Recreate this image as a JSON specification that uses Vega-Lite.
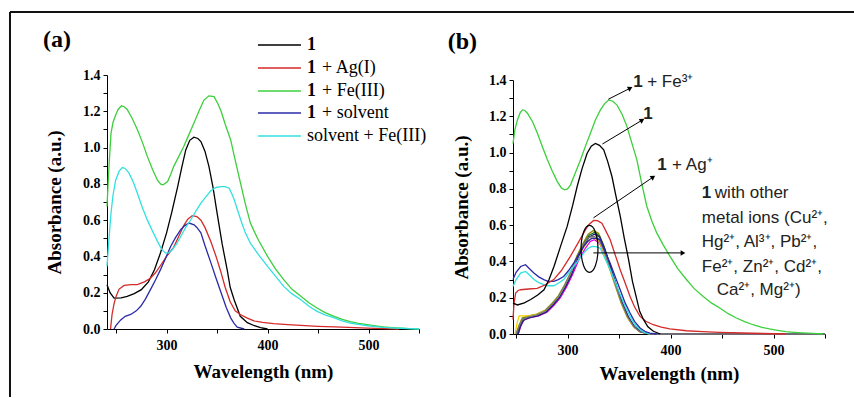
{
  "$schema": "https://vega.github.io/schema/vega-lite/v6.json",
  "background": "white",
  "padding": {"left": 8, "top": 11, "right": 0, "bottom": 0},
  "spacing": 94,
  "bounds": "flush",
  "config": {
    "view": {"stroke": null},
    "axis": {
      "grid": false, "domainColor": "#000", "tickColor": "#000", "tickSize": 4, "labelOverlap": false,
      "labelFont": "Liberation Serif", "labelFontWeight": "bold", "labelFontSize": 14, "labelColor": "#000",
      "titleFont": "Liberation Serif", "titleFontWeight": "bold", "titleFontSize": 19, "titleColor": "#000"
    }
  },
  "datasets": {
    "a": [
      {"s":"1","x":241,"y":0.244},{"s":"1","x":244,"y":0.2},{"s":"1","x":248,"y":0.17},{"s":"1","x":255,"y":0.172},{"s":"1","x":261,"y":0.18},{"s":"1","x":268,"y":0.195},{"s":"1","x":275,"y":0.217},{"s":"1","x":282,"y":0.26},{"s":"1","x":288,"y":0.327},{"s":"1","x":294,"y":0.42},{"s":"1","x":300,"y":0.53},{"s":"1","x":305,"y":0.64},{"s":"1","x":311,"y":0.785},{"s":"1","x":315,"y":0.89},{"s":"1","x":319,"y":0.987},{"s":"1","x":323,"y":1.04},{"s":"1","x":327,"y":1.057},{"s":"1","x":331,"y":1.05},{"s":"1","x":334,"y":1.033},{"s":"1","x":338,"y":0.98},{"s":"1","x":342,"y":0.895},{"s":"1","x":346,"y":0.78},{"s":"1","x":350,"y":0.64},{"s":"1","x":355,"y":0.47},{"s":"1","x":360,"y":0.327},{"s":"1","x":363,"y":0.23},{"s":"1","x":367,"y":0.16},{"s":"1","x":373,"y":0.07},{"s":"1","x":380,"y":0.035},{"s":"1","x":387,"y":0.018},{"s":"1","x":393,"y":0.008},{"s":"1","x":400,"y":0},
      {"s":"1 + Ag(I)","x":244.5,"y":0},{"s":"1 + Ag(I)","x":246,"y":0.08},{"s":"1 + Ag(I)","x":248,"y":0.14},{"s":"1 + Ag(I)","x":250,"y":0.18},{"s":"1 + Ag(I)","x":253,"y":0.22},{"s":"1 + Ag(I)","x":258,"y":0.24},{"s":"1 + Ag(I)","x":265,"y":0.245},{"s":"1 + Ag(I)","x":271,"y":0.245},{"s":"1 + Ag(I)","x":278,"y":0.26},{"s":"1 + Ag(I)","x":284,"y":0.28},{"s":"1 + Ag(I)","x":289,"y":0.31},{"s":"1 + Ag(I)","x":294,"y":0.35},{"s":"1 + Ag(I)","x":300,"y":0.4},{"s":"1 + Ag(I)","x":307,"y":0.45},{"s":"1 + Ag(I)","x":312,"y":0.51},{"s":"1 + Ag(I)","x":317,"y":0.57},{"s":"1 + Ag(I)","x":321,"y":0.605},{"s":"1 + Ag(I)","x":325.5,"y":0.625},{"s":"1 + Ag(I)","x":330,"y":0.62},{"s":"1 + Ag(I)","x":334,"y":0.6},{"s":"1 + Ag(I)","x":338,"y":0.56},{"s":"1 + Ag(I)","x":344,"y":0.48},{"s":"1 + Ag(I)","x":349,"y":0.4},{"s":"1 + Ag(I)","x":353.5,"y":0.32},{"s":"1 + Ag(I)","x":358,"y":0.23},{"s":"1 + Ag(I)","x":363,"y":0.15},{"s":"1 + Ag(I)","x":368,"y":0.1},{"s":"1 + Ag(I)","x":373,"y":0.08},{"s":"1 + Ag(I)","x":380,"y":0.06},{"s":"1 + Ag(I)","x":386.5,"y":0.045},{"s":"1 + Ag(I)","x":395,"y":0.037},{"s":"1 + Ag(I)","x":406,"y":0.03},{"s":"1 + Ag(I)","x":420,"y":0.024},{"s":"1 + Ag(I)","x":433,"y":0.02},{"s":"1 + Ag(I)","x":450,"y":0.015},{"s":"1 + Ag(I)","x":466,"y":0.012},{"s":"1 + Ag(I)","x":480,"y":0.009},{"s":"1 + Ag(I)","x":499,"y":0.005},{"s":"1 + Ag(I)","x":525,"y":0.001},{"s":"1 + Ag(I)","x":530,"y":0},
      {"s":"1 + Fe(III)","x":241,"y":0.675},{"s":"1 + Fe(III)","x":243,"y":0.9},{"s":"1 + Fe(III)","x":245,"y":1.08},{"s":"1 + Fe(III)","x":247,"y":1.14},{"s":"1 + Fe(III)","x":249.6,"y":1.18},{"s":"1 + Fe(III)","x":252,"y":1.21},{"s":"1 + Fe(III)","x":255.3,"y":1.23},{"s":"1 + Fe(III)","x":258,"y":1.225},{"s":"1 + Fe(III)","x":261,"y":1.21},{"s":"1 + Fe(III)","x":266,"y":1.16},{"s":"1 + Fe(III)","x":271,"y":1.1},{"s":"1 + Fe(III)","x":276,"y":1.03},{"s":"1 + Fe(III)","x":281,"y":0.95},{"s":"1 + Fe(III)","x":286,"y":0.88},{"s":"1 + Fe(III)","x":291,"y":0.82},{"s":"1 + Fe(III)","x":294,"y":0.8},{"s":"1 + Fe(III)","x":296,"y":0.795},{"s":"1 + Fe(III)","x":298,"y":0.8},{"s":"1 + Fe(III)","x":301,"y":0.813},{"s":"1 + Fe(III)","x":304,"y":0.85},{"s":"1 + Fe(III)","x":307,"y":0.895},{"s":"1 + Fe(III)","x":312,"y":0.95},{"s":"1 + Fe(III)","x":317,"y":1.006},{"s":"1 + Fe(III)","x":322,"y":1.07},{"s":"1 + Fe(III)","x":327,"y":1.134},{"s":"1 + Fe(III)","x":332,"y":1.2},{"s":"1 + Fe(III)","x":337,"y":1.262},{"s":"1 + Fe(III)","x":342,"y":1.285},{"s":"1 + Fe(III)","x":347,"y":1.281},{"s":"1 + Fe(III)","x":351,"y":1.24},{"s":"1 + Fe(III)","x":354,"y":1.2},{"s":"1 + Fe(III)","x":358,"y":1.13},{"s":"1 + Fe(III)","x":363.5,"y":1.042},{"s":"1 + Fe(III)","x":368,"y":0.93},{"s":"1 + Fe(III)","x":373,"y":0.81},{"s":"1 + Fe(III)","x":378,"y":0.69},{"s":"1 + Fe(III)","x":383,"y":0.584},{"s":"1 + Fe(III)","x":390,"y":0.5},{"s":"1 + Fe(III)","x":400,"y":0.4},{"s":"1 + Fe(III)","x":408,"y":0.33},{"s":"1 + Fe(III)","x":416,"y":0.272},{"s":"1 + Fe(III)","x":424,"y":0.22},{"s":"1 + Fe(III)","x":433,"y":0.18},{"s":"1 + Fe(III)","x":441,"y":0.145},{"s":"1 + Fe(III)","x":449,"y":0.116},{"s":"1 + Fe(III)","x":457,"y":0.09},{"s":"1 + Fe(III)","x":466,"y":0.07},{"s":"1 + Fe(III)","x":474,"y":0.053},{"s":"1 + Fe(III)","x":482,"y":0.04},{"s":"1 + Fe(III)","x":490,"y":0.031},{"s":"1 + Fe(III)","x":499,"y":0.024},{"s":"1 + Fe(III)","x":507,"y":0.017},{"s":"1 + Fe(III)","x":515,"y":0.011},{"s":"1 + Fe(III)","x":523,"y":0.008},{"s":"1 + Fe(III)","x":532,"y":0.005},{"s":"1 + Fe(III)","x":540,"y":0.002},{"s":"1 + Fe(III)","x":550,"y":0},
      {"s":"1 + solvent","x":248,"y":0},{"s":"1 + solvent","x":250,"y":0.02},{"s":"1 + solvent","x":254.6,"y":0.05},{"s":"1 + solvent","x":259,"y":0.07},{"s":"1 + solvent","x":264.5,"y":0.08},{"s":"1 + solvent","x":270,"y":0.1},{"s":"1 + solvent","x":274.4,"y":0.125},{"s":"1 + solvent","x":279,"y":0.165},{"s":"1 + solvent","x":284.3,"y":0.22},{"s":"1 + solvent","x":289,"y":0.27},{"s":"1 + solvent","x":294.2,"y":0.33},{"s":"1 + solvent","x":299,"y":0.39},{"s":"1 + solvent","x":304,"y":0.455},{"s":"1 + solvent","x":309,"y":0.505},{"s":"1 + solvent","x":314,"y":0.547},{"s":"1 + solvent","x":318,"y":0.57},{"s":"1 + solvent","x":322.3,"y":0.584},{"s":"1 + solvent","x":327.3,"y":0.574},{"s":"1 + solvent","x":330,"y":0.56},{"s":"1 + solvent","x":334,"y":0.53},{"s":"1 + solvent","x":338,"y":0.46},{"s":"1 + solvent","x":344,"y":0.363},{"s":"1 + solvent","x":349,"y":0.28},{"s":"1 + solvent","x":354,"y":0.2},{"s":"1 + solvent","x":359,"y":0.12},{"s":"1 + solvent","x":363.6,"y":0.06},{"s":"1 + solvent","x":367,"y":0.03},{"s":"1 + solvent","x":370,"y":0.01},{"s":"1 + solvent","x":377,"y":0},
      {"s":"solvent + Fe(III)","x":241,"y":0.345},{"s":"solvent + Fe(III)","x":243,"y":0.5},{"s":"solvent + Fe(III)","x":245,"y":0.64},{"s":"solvent + Fe(III)","x":247,"y":0.74},{"s":"solvent + Fe(III)","x":249.6,"y":0.82},{"s":"solvent + Fe(III)","x":253,"y":0.87},{"s":"solvent + Fe(III)","x":256.2,"y":0.89},{"s":"solvent + Fe(III)","x":259,"y":0.885},{"s":"solvent + Fe(III)","x":262.8,"y":0.859},{"s":"solvent + Fe(III)","x":267,"y":0.81},{"s":"solvent + Fe(III)","x":271,"y":0.75},{"s":"solvent + Fe(III)","x":276,"y":0.67},{"s":"solvent + Fe(III)","x":281,"y":0.6},{"s":"solvent + Fe(III)","x":286,"y":0.54},{"s":"solvent + Fe(III)","x":291,"y":0.483},{"s":"solvent + Fe(III)","x":295,"y":0.44},{"s":"solvent + Fe(III)","x":299,"y":0.418},{"s":"solvent + Fe(III)","x":302,"y":0.42},{"s":"solvent + Fe(III)","x":305.7,"y":0.437},{"s":"solvent + Fe(III)","x":310,"y":0.47},{"s":"solvent + Fe(III)","x":314,"y":0.51},{"s":"solvent + Fe(III)","x":319,"y":0.56},{"s":"solvent + Fe(III)","x":324,"y":0.602},{"s":"solvent + Fe(III)","x":329,"y":0.65},{"s":"solvent + Fe(III)","x":334,"y":0.694},{"s":"solvent + Fe(III)","x":339,"y":0.73},{"s":"solvent + Fe(III)","x":344,"y":0.763},{"s":"solvent + Fe(III)","x":349,"y":0.78},{"s":"solvent + Fe(III)","x":354,"y":0.785},{"s":"solvent + Fe(III)","x":358,"y":0.785},{"s":"solvent + Fe(III)","x":362,"y":0.776},{"s":"solvent + Fe(III)","x":365,"y":0.74},{"s":"solvent + Fe(III)","x":367,"y":0.712},{"s":"solvent + Fe(III)","x":370,"y":0.66},{"s":"solvent + Fe(III)","x":373.4,"y":0.602},{"s":"solvent + Fe(III)","x":378,"y":0.53},{"s":"solvent + Fe(III)","x":383,"y":0.473},{"s":"solvent + Fe(III)","x":391,"y":0.41},{"s":"solvent + Fe(III)","x":400,"y":0.345},{"s":"solvent + Fe(III)","x":408,"y":0.29},{"s":"solvent + Fe(III)","x":416,"y":0.235},{"s":"solvent + Fe(III)","x":424,"y":0.195},{"s":"solvent + Fe(III)","x":433,"y":0.161},{"s":"solvent + Fe(III)","x":441,"y":0.125},{"s":"solvent + Fe(III)","x":449,"y":0.097},{"s":"solvent + Fe(III)","x":457,"y":0.078},{"s":"solvent + Fe(III)","x":466,"y":0.061},{"s":"solvent + Fe(III)","x":474,"y":0.045},{"s":"solvent + Fe(III)","x":482,"y":0.033},{"s":"solvent + Fe(III)","x":490,"y":0.025},{"s":"solvent + Fe(III)","x":499,"y":0.018},{"s":"solvent + Fe(III)","x":507,"y":0.013},{"s":"solvent + Fe(III)","x":515,"y":0.009},{"s":"solvent + Fe(III)","x":523,"y":0.006},{"s":"solvent + Fe(III)","x":532,"y":0.004},{"s":"solvent + Fe(III)","x":540,"y":0.002},{"s":"solvent + Fe(III)","x":550,"y":0}
    ],
    "legA": [
      {"s":"1","x":390.5,"x2":433.1,"y":1.565},
      {"s":"1 + Ag(I)","x":390.5,"x2":433.1,"y":1.4385},
      {"s":"1 + Fe(III)","x":390.5,"x2":433.1,"y":1.312},
      {"s":"1 + solvent","x":390.5,"x2":433.1,"y":1.19},
      {"s":"solvent + Fe(III)","x":390.5,"x2":433.1,"y":1.064}
    ],
    "legBold": [
      {"x":439.1,"y":1.565,"t":"1"},{"x":439.1,"y":1.4385,"t":"1"},{"x":439.1,"y":1.312,"t":"1"},{"x":439.1,"y":1.19,"t":"1"}
    ],
    "legNorm": [
      {"x":454,"y":1.4385,"t":"+ Ag(I)"},{"x":454,"y":1.312,"t":"+ Fe(III)"},{"x":454,"y":1.19,"t":"+ solvent"},{"x":439.1,"y":1.064,"t":"solvent + Fe(III)"}
    ],
    "labA": [{"x":177.6,"y":1.593,"t":"(a)"}],
    "labB": [{"x":183.6,"y":1.611,"t":"(b)"}],
    "frame": [
      {"x":-241.5,"x2":578.2,"y":1.7748,"y2":1.7748},
      {"x":-241.5,"x2":-241.5,"y":1.7748,"y2":-0.3472}
    ],
    "b": [
      {"s":"m1","x":250,"y":0},{"s":"m1","x":253,"y":0.05},{"s":"m1","x":256,"y":0.09},{"s":"m1","x":262,"y":0.1},{"s":"m1","x":270,"y":0.11},{"s":"m1","x":278,"y":0.13},{"s":"m1","x":285,"y":0.17},{"s":"m1","x":291,"y":0.21},{"s":"m1","x":297,"y":0.27},{"s":"m1","x":303,"y":0.34},{"s":"m1","x":309,"y":0.43},{"s":"m1","x":315,"y":0.5},{"s":"m1","x":320,"y":0.55},{"s":"m1","x":325,"y":0.57},{"s":"m1","x":330,"y":0.555},{"s":"m1","x":335,"y":0.49},{"s":"m1","x":340,"y":0.4},{"s":"m1","x":346,"y":0.29},{"s":"m1","x":352,"y":0.19},{"s":"m1","x":358,"y":0.1},{"s":"m1","x":364,"y":0.045},{"s":"m1","x":370,"y":0.015},{"s":"m1","x":378,"y":0.003},{"s":"m1","x":386,"y":0},{"s":"m1","x":550,"y":0},
      {"s":"m2","x":251,"y":0},{"s":"m2","x":254,"y":0.05},{"s":"m2","x":257,"y":0.085},{"s":"m2","x":263,"y":0.095},{"s":"m2","x":271,"y":0.105},{"s":"m2","x":279,"y":0.125},{"s":"m2","x":286,"y":0.165},{"s":"m2","x":292,"y":0.21},{"s":"m2","x":298,"y":0.27},{"s":"m2","x":304,"y":0.34},{"s":"m2","x":310,"y":0.43},{"s":"m2","x":316,"y":0.5},{"s":"m2","x":321,"y":0.545},{"s":"m2","x":326,"y":0.56},{"s":"m2","x":331,"y":0.54},{"s":"m2","x":336,"y":0.47},{"s":"m2","x":341,"y":0.38},{"s":"m2","x":347,"y":0.27},{"s":"m2","x":353,"y":0.17},{"s":"m2","x":359,"y":0.09},{"s":"m2","x":365,"y":0.04},{"s":"m2","x":371,"y":0.012},{"s":"m2","x":379,"y":0.002},{"s":"m2","x":388,"y":0},{"s":"m2","x":550,"y":0},
      {"s":"m3","x":252,"y":0},{"s":"m3","x":255,"y":0.05},{"s":"m3","x":258,"y":0.08},{"s":"m3","x":264,"y":0.09},{"s":"m3","x":272,"y":0.1},{"s":"m3","x":280,"y":0.12},{"s":"m3","x":287,"y":0.16},{"s":"m3","x":293,"y":0.2},{"s":"m3","x":299,"y":0.26},{"s":"m3","x":305,"y":0.33},{"s":"m3","x":311,"y":0.41},{"s":"m3","x":317,"y":0.47},{"s":"m3","x":322,"y":0.51},{"s":"m3","x":326,"y":0.52},{"s":"m3","x":331,"y":0.5},{"s":"m3","x":336,"y":0.44},{"s":"m3","x":341,"y":0.36},{"s":"m3","x":347,"y":0.26},{"s":"m3","x":353,"y":0.16},{"s":"m3","x":359,"y":0.085},{"s":"m3","x":365,"y":0.035},{"s":"m3","x":371,"y":0.01},{"s":"m3","x":379,"y":0.002},{"s":"m3","x":388,"y":0},{"s":"m3","x":550,"y":0},
      {"s":"m4","x":249,"y":0},{"s":"m4","x":251,"y":0.06},{"s":"m4","x":253,"y":0.1},{"s":"m4","x":257,"y":0.1},{"s":"m4","x":263,"y":0.1},{"s":"m4","x":271,"y":0.11},{"s":"m4","x":279,"y":0.13},{"s":"m4","x":286,"y":0.17},{"s":"m4","x":292,"y":0.21},{"s":"m4","x":298,"y":0.27},{"s":"m4","x":304,"y":0.34},{"s":"m4","x":310,"y":0.42},{"s":"m4","x":316,"y":0.48},{"s":"m4","x":321,"y":0.52},{"s":"m4","x":325,"y":0.53},{"s":"m4","x":330,"y":0.515},{"s":"m4","x":335,"y":0.455},{"s":"m4","x":340,"y":0.37},{"s":"m4","x":346,"y":0.27},{"s":"m4","x":352,"y":0.17},{"s":"m4","x":358,"y":0.09},{"s":"m4","x":364,"y":0.04},{"s":"m4","x":370,"y":0.012},{"s":"m4","x":378,"y":0.002},{"s":"m4","x":386,"y":0},{"s":"m4","x":550,"y":0},
      {"s":"m5","x":252,"y":0},{"s":"m5","x":254,"y":0.04},{"s":"m5","x":257,"y":0.075},{"s":"m5","x":263,"y":0.09},{"s":"m5","x":271,"y":0.1},{"s":"m5","x":279,"y":0.12},{"s":"m5","x":286,"y":0.16},{"s":"m5","x":292,"y":0.2},{"s":"m5","x":298,"y":0.26},{"s":"m5","x":304,"y":0.33},{"s":"m5","x":310,"y":0.42},{"s":"m5","x":316,"y":0.49},{"s":"m5","x":321,"y":0.535},{"s":"m5","x":326,"y":0.55},{"s":"m5","x":331,"y":0.535},{"s":"m5","x":336,"y":0.47},{"s":"m5","x":341,"y":0.385},{"s":"m5","x":347,"y":0.275},{"s":"m5","x":353,"y":0.175},{"s":"m5","x":359,"y":0.095},{"s":"m5","x":365,"y":0.04},{"s":"m5","x":371,"y":0.012},{"s":"m5","x":379,"y":0.002},{"s":"m5","x":388,"y":0},{"s":"m5","x":550,"y":0},
      {"s":"m6","x":250,"y":0},{"s":"m6","x":253,"y":0.045},{"s":"m6","x":256,"y":0.08},{"s":"m6","x":262,"y":0.095},{"s":"m6","x":270,"y":0.105},{"s":"m6","x":278,"y":0.125},{"s":"m6","x":285,"y":0.165},{"s":"m6","x":291,"y":0.205},{"s":"m6","x":297,"y":0.265},{"s":"m6","x":303,"y":0.335},{"s":"m6","x":309,"y":0.42},{"s":"m6","x":315,"y":0.49},{"s":"m6","x":320,"y":0.53},{"s":"m6","x":325,"y":0.54},{"s":"m6","x":330,"y":0.525},{"s":"m6","x":335,"y":0.465},{"s":"m6","x":340,"y":0.38},{"s":"m6","x":346,"y":0.275},{"s":"m6","x":352,"y":0.175},{"s":"m6","x":358,"y":0.095},{"s":"m6","x":364,"y":0.042},{"s":"m6","x":370,"y":0.013},{"s":"m6","x":378,"y":0.003},{"s":"m6","x":386,"y":0},{"s":"m6","x":550,"y":0},
      {"s":"cyan","x":247,"y":0.262},{"s":"cyan","x":250,"y":0.3},{"s":"cyan","x":254.4,"y":0.336},{"s":"cyan","x":259.2,"y":0.345},{"s":"cyan","x":263,"y":0.325},{"s":"cyan","x":267.3,"y":0.3},{"s":"cyan","x":272,"y":0.283},{"s":"cyan","x":276.9,"y":0.272},{"s":"cyan","x":281,"y":0.266},{"s":"cyan","x":286.6,"y":0.266},{"s":"cyan","x":291,"y":0.28},{"s":"cyan","x":296.2,"y":0.3},{"s":"cyan","x":301,"y":0.335},{"s":"cyan","x":305.9,"y":0.372},{"s":"cyan","x":311,"y":0.41},{"s":"cyan","x":315.6,"y":0.446},{"s":"cyan","x":319.5,"y":0.47},{"s":"cyan","x":323.6,"y":0.483},{"s":"cyan","x":327.5,"y":0.482},{"s":"cyan","x":331.7,"y":0.473},{"s":"cyan","x":336,"y":0.42},{"s":"cyan","x":341.4,"y":0.354},{"s":"cyan","x":346,"y":0.29},{"s":"cyan","x":351.1,"y":0.217},{"s":"cyan","x":356,"y":0.15},{"s":"cyan","x":360.7,"y":0.097},{"s":"cyan","x":365,"y":0.055},{"s":"cyan","x":370.4,"y":0.024},{"s":"cyan","x":375,"y":0.008},{"s":"cyan","x":380,"y":0},
      {"s":"blue","x":247,"y":0.3},{"s":"blue","x":250,"y":0.34},{"s":"blue","x":254.4,"y":0.372},{"s":"blue","x":259.2,"y":0.382},{"s":"blue","x":263,"y":0.36},{"s":"blue","x":267.3,"y":0.336},{"s":"blue","x":272,"y":0.315},{"s":"blue","x":276.9,"y":0.3},{"s":"blue","x":281,"y":0.29},{"s":"blue","x":286.6,"y":0.29},{"s":"blue","x":291,"y":0.3},{"s":"blue","x":296.2,"y":0.317},{"s":"blue","x":301,"y":0.35},{"s":"blue","x":305.9,"y":0.39},{"s":"blue","x":311,"y":0.44},{"s":"blue","x":315.6,"y":0.483},{"s":"blue","x":319.5,"y":0.51},{"s":"blue","x":323.6,"y":0.528},{"s":"blue","x":327.5,"y":0.527},{"s":"blue","x":331.7,"y":0.519},{"s":"blue","x":336,"y":0.46},{"s":"blue","x":341.4,"y":0.39},{"s":"blue","x":346,"y":0.32},{"s":"blue","x":351.1,"y":0.244},{"s":"blue","x":356,"y":0.17},{"s":"blue","x":360.7,"y":0.116},{"s":"blue","x":365,"y":0.07},{"s":"blue","x":370.4,"y":0.033},{"s":"blue","x":375,"y":0.015},{"s":"blue","x":380,"y":0.005},{"s":"blue","x":386.5,"y":0},
      {"s":"Ag","x":247,"y":0.08},{"s":"Ag","x":248,"y":0.17},{"s":"Ag","x":249.6,"y":0.226},{"s":"Ag","x":252,"y":0.24},{"s":"Ag","x":254.4,"y":0.244},{"s":"Ag","x":262,"y":0.248},{"s":"Ag","x":270.5,"y":0.251},{"s":"Ag","x":278,"y":0.27},{"s":"Ag","x":286.6,"y":0.3},{"s":"Ag","x":294,"y":0.35},{"s":"Ag","x":302.7,"y":0.428},{"s":"Ag","x":309,"y":0.49},{"s":"Ag","x":315.6,"y":0.556},{"s":"Ag","x":320,"y":0.6},{"s":"Ag","x":325.3,"y":0.626},{"s":"Ag","x":329,"y":0.625},{"s":"Ag","x":333.3,"y":0.611},{"s":"Ag","x":337,"y":0.57},{"s":"Ag","x":341.4,"y":0.519},{"s":"Ag","x":346,"y":0.44},{"s":"Ag","x":351.1,"y":0.354},{"s":"Ag","x":356,"y":0.28},{"s":"Ag","x":360.7,"y":0.207},{"s":"Ag","x":365,"y":0.15},{"s":"Ag","x":370.4,"y":0.097},{"s":"Ag","x":376,"y":0.07},{"s":"Ag","x":383.2,"y":0.051},{"s":"Ag","x":391,"y":0.038},{"s":"Ag","x":399.3,"y":0.028},{"s":"Ag","x":415.4,"y":0.018},{"s":"Ag","x":431,"y":0.013},{"s":"Ag","x":447.6,"y":0.009},{"s":"Ag","x":479.8,"y":0.004},{"s":"Ag","x":512,"y":0},
      {"s":"one","x":247,"y":0.17},{"s":"one","x":251.3,"y":0.16},{"s":"one","x":258,"y":0.172},{"s":"one","x":264.2,"y":0.19},{"s":"one","x":271,"y":0.215},{"s":"one","x":277.1,"y":0.244},{"s":"one","x":282,"y":0.3},{"s":"one","x":286.8,"y":0.372},{"s":"one","x":293,"y":0.48},{"s":"one","x":299.6,"y":0.593},{"s":"one","x":305,"y":0.71},{"s":"one","x":309.3,"y":0.813},{"s":"one","x":314,"y":0.91},{"s":"one","x":319,"y":0.996},{"s":"one","x":323,"y":1.035},{"s":"one","x":327,"y":1.05},{"s":"one","x":331,"y":1.04},{"s":"one","x":335.1,"y":1.015},{"s":"one","x":339,"y":0.95},{"s":"one","x":343.1,"y":0.868},{"s":"one","x":347,"y":0.76},{"s":"one","x":351.2,"y":0.648},{"s":"one","x":355,"y":0.53},{"s":"one","x":359.3,"y":0.409},{"s":"one","x":363,"y":0.29},{"s":"one","x":367.3,"y":0.189},{"s":"one","x":370,"y":0.125},{"s":"one","x":373.8,"y":0.079},{"s":"one","x":378,"y":0.04},{"s":"one","x":383.4,"y":0.015},{"s":"one","x":390,"y":0},
      {"s":"Fe3","x":247,"y":1.05},{"s":"Fe3","x":249,"y":1.13},{"s":"Fe3","x":251.3,"y":1.18},{"s":"Fe3","x":254,"y":1.22},{"s":"Fe3","x":256.2,"y":1.235},{"s":"Fe3","x":258.5,"y":1.232},{"s":"Fe3","x":261,"y":1.217},{"s":"Fe3","x":266,"y":1.17},{"s":"Fe3","x":270.7,"y":1.106},{"s":"Fe3","x":275,"y":1.04},{"s":"Fe3","x":280.4,"y":0.96},{"s":"Fe3","x":285,"y":0.9},{"s":"Fe3","x":290,"y":0.84},{"s":"Fe3","x":294,"y":0.805},{"s":"Fe3","x":297.1,"y":0.795},{"s":"Fe3","x":300,"y":0.8},{"s":"Fe3","x":302.9,"y":0.822},{"s":"Fe3","x":307,"y":0.88},{"s":"Fe3","x":312.6,"y":0.96},{"s":"Fe3","x":317,"y":1.03},{"s":"Fe3","x":322.2,"y":1.106},{"s":"Fe3","x":327,"y":1.18},{"s":"Fe3","x":331.9,"y":1.235},{"s":"Fe3","x":336,"y":1.27},{"s":"Fe3","x":339.9,"y":1.29},{"s":"Fe3","x":344,"y":1.283},{"s":"Fe3","x":348,"y":1.262},{"s":"Fe3","x":353,"y":1.21},{"s":"Fe3","x":357.7,"y":1.143},{"s":"Fe3","x":362,"y":1.06},{"s":"Fe3","x":367.3,"y":0.96},{"s":"Fe3","x":372,"y":0.83},{"s":"Fe3","x":377,"y":0.703},{"s":"Fe3","x":382,"y":0.62},{"s":"Fe3","x":386.7,"y":0.556},{"s":"Fe3","x":393,"y":0.49},{"s":"Fe3","x":399.5,"y":0.428},{"s":"Fe3","x":407,"y":0.36},{"s":"Fe3","x":415.6,"y":0.299},{"s":"Fe3","x":423,"y":0.25},{"s":"Fe3","x":431.7,"y":0.207},{"s":"Fe3","x":440,"y":0.17},{"s":"Fe3","x":447.8,"y":0.143},{"s":"Fe3","x":456,"y":0.112},{"s":"Fe3","x":463.9,"y":0.088},{"s":"Fe3","x":472,"y":0.068},{"s":"Fe3","x":480,"y":0.051},{"s":"Fe3","x":488,"y":0.038},{"s":"Fe3","x":496,"y":0.028},{"s":"Fe3","x":504,"y":0.02},{"s":"Fe3","x":512,"y":0.013},{"s":"Fe3","x":520,"y":0.009},{"s":"Fe3","x":528,"y":0.006},{"s":"Fe3","x":538,"y":0.003},{"s":"Fe3","x":548,"y":0}
    ],
    "arrows": [
      {"x":339.6,"y":1.294,"x2":360.9,"y2":1.355,"ang":333},
      {"x":333.8,"y":1.047,"x2":372.5,"y2":1.179,"ang":329},
      {"x":325.1,"y":0.64,"x2":383.1,"y2":0.865,"ang":326},
      {"x":325.1,"y":0.447,"x2":412.1,"y2":0.447,"ang":0}
    ],
    "ellipse": [{"x":321.3,"y":0.469}],
    "boldtext": [
      {"x":363.8,"y":1.388,"t":"1"},
      {"x":373.4,"y":1.212,"t":"1"},
      {"x":387,"y":0.931,"t":"1"},
      {"x":430.4,"y":0.777,"t":"1"}
    ],
    "normtext": [
      {"x":377.3,"y":1.388,"t":"+ Fe³⁺"},
      {"x":401.5,"y":0.931,"t":"+ Ag⁺"},
      {"x":443,"y":0.777,"t":"with other"},
      {"x":430.4,"y":0.64,"t":"metal ions (Cu²⁺,"},
      {"x":430.4,"y":0.508,"t":"Hg²⁺, Al³⁺, Pb²⁺,"},
      {"x":430.4,"y":0.37,"t":"Fe²⁺, Zn²⁺, Cd²⁺,"},
      {"x":444.9,"y":0.244,"t":"Ca²⁺, Mg²⁺)"}
    ]
  },
  "resolve": {"scale": {"x": "independent", "y": "independent", "color": "independent"}},
  "hconcat": [
    {
      "width": 312, "height": 254,
      "encoding": {
        "x": {"field": "x", "type": "quantitative", "title": "Wavelength (nm)",
              "scale": {"domain": [241, 550], "nice": false, "zero": false},
              "axis": {"values": [250, 300, 350, 400, 450, 500, 550], "labelExpr": "datum.value % 100 == 0 ? datum.label : ''", "titlePadding": 10, "labelPadding": 5}},
        "y": {"field": "y", "type": "quantitative", "title": "Absorbance (a.u.)",
              "scale": {"domain": [0, 1.4], "nice": false, "zero": false},
              "axis": {"values": [0, 0.1, 0.2, 0.3, 0.4, 0.5, 0.6, 0.7, 0.8, 0.9, 1.0, 1.1, 1.2, 1.3, 1.4], "labelExpr": "round(datum.value*10) % 2 == 0 ? format(datum.value, '.1f') : ''", "titlePadding": 18, "labelPadding": 3}}
      },
      "layer": [
        {
          "data": {"name": "a"},
          "mark": {"type": "line", "strokeWidth": 1.3},
          "encoding": {
            "color": {"field": "s", "type": "nominal", "legend": null,
                      "scale": {"domain": ["1", "1 + Ag(I)", "1 + Fe(III)", "1 + solvent", "solvent + Fe(III)"], "range": ["#000000", "#d42a2a", "#3ccf3c", "#2a2aa8", "#33e0e0"]}}
          }
        },
        {
          "data": {"name": "legA"},
          "mark": {"type": "rule", "strokeWidth": 1.5},
          "encoding": {
            "x2": {"field": "x2"},
            "color": {"field": "s", "type": "nominal", "legend": null}
          }
        },
        {
          "data": {"name": "legBold"},
          "mark": {"type": "text", "font": "Liberation Serif", "fontSize": 18, "fontWeight": "bold", "align": "left", "baseline": "middle", "color": "#000"},
          "encoding": {"text": {"field": "t", "type": "nominal"}}
        },
        {
          "data": {"name": "legNorm"},
          "mark": {"type": "text", "font": "Liberation Serif", "fontSize": 18, "align": "left", "baseline": "middle", "color": "#000"},
          "encoding": {"text": {"field": "t", "type": "nominal"}}
        },
        {
          "data": {"name": "labA"},
          "mark": {"type": "text", "font": "Liberation Serif", "fontSize": 24, "fontWeight": "bold", "align": "left", "baseline": "middle", "color": "#000"},
          "encoding": {"text": {"field": "t", "type": "nominal"}}
        }
      ]
    },
    {
      "vconcat": [
        {"width": 312, "height": 1, "data": {"values": []}, "mark": "point", "encoding": {}},
        {
          "width": 312, "height": 254,
          "encoding": {
            "x": {"field": "x", "type": "quantitative", "title": "Wavelength (nm)",
                  "scale": {"domain": [247, 550], "nice": false, "zero": false},
                  "axis": {"values": [250, 300, 350, 400, 450, 500, 550], "labelExpr": "datum.value % 100 == 0 ? datum.label : ''", "titlePadding": 7, "labelPadding": 5}},
            "y": {"field": "y", "type": "quantitative", "title": "Absorbance (a.u.)",
                  "scale": {"domain": [0, 1.4], "nice": false, "zero": false},
                  "axis": {"values": [0, 0.1, 0.2, 0.3, 0.4, 0.5, 0.6, 0.7, 0.8, 0.9, 1.0, 1.1, 1.2, 1.3, 1.4], "labelExpr": "round(datum.value*10) % 2 == 0 ? format(datum.value, '.1f') : ''", "titlePadding": 17, "labelPadding": 3}}
          },
          "layer": [
            {
              "data": {"name": "b"},
              "mark": {"type": "line", "strokeWidth": 1.3},
              "encoding": {
                "color": {"field": "s", "type": "nominal", "legend": null,
                          "scale": {"domain": ["m1", "m2", "m3", "m4", "m5", "m6", "cyan", "blue", "Ag", "one", "Fe3"], "range": ["#8b8b00", "#1a6b1a", "#e000e0", "#f0d000", "#202080", "#7a7a7a", "#33e0e0", "#2a2aa8", "#d42a2a", "#000000", "#3ccf3c"]}}
              }
            },
            {
              "data": {"name": "arrows"},
              "mark": {"type": "rule", "color": "#000", "strokeWidth": 1},
              "encoding": {"x2": {"field": "x2"}, "y2": {"field": "y2"}}
            },
            {
              "data": {"name": "arrows"},
              "mark": {"type": "point", "shape": "triangle-right", "filled": true, "color": "#000", "size": 30, "opacity": 1},
              "encoding": {
                "x": {"field": "x2", "type": "quantitative"},
                "y": {"field": "y2", "type": "quantitative"},
                "angle": {"field": "ang", "type": "quantitative", "scale": null}
              }
            },
            {
              "data": {"name": "ellipse"},
              "mark": {"type": "point", "shape": "M0,-1A0.36,1 0 1,1 0,1A0.36,1 0 1,1 0,-1Z", "filled": false, "color": "#000", "size": 2209, "strokeWidth": 1.2, "opacity": 1},
              "encoding": {}
            },
            {
              "data": {"name": "boldtext"},
              "mark": {"type": "text", "font": "Liberation Sans", "fontSize": 17, "fontWeight": "bold", "align": "left", "baseline": "middle", "color": "#222"},
              "encoding": {"text": {"field": "t", "type": "nominal"}}
            },
            {
              "data": {"name": "normtext"},
              "mark": {"type": "text", "font": "Liberation Sans", "fontSize": 17, "align": "left", "baseline": "middle", "color": "#222"},
              "encoding": {"text": {"field": "t", "type": "nominal"}}
            },
            {
              "data": {"name": "labB"},
              "mark": {"type": "text", "font": "Liberation Serif", "fontSize": 24, "fontWeight": "bold", "align": "left", "baseline": "middle", "color": "#000"},
              "encoding": {"text": {"field": "t", "type": "nominal"}}
            },
            {
              "data": {"name": "frame"},
              "mark": {"type": "rule", "color": "#111", "strokeWidth": 2},
              "encoding": {"x2": {"field": "x2"}, "y2": {"field": "y2"}}
            }
          ]
        }
      ],
      "spacing": 4,
      "bounds": "flush"
    }
  ]
}
